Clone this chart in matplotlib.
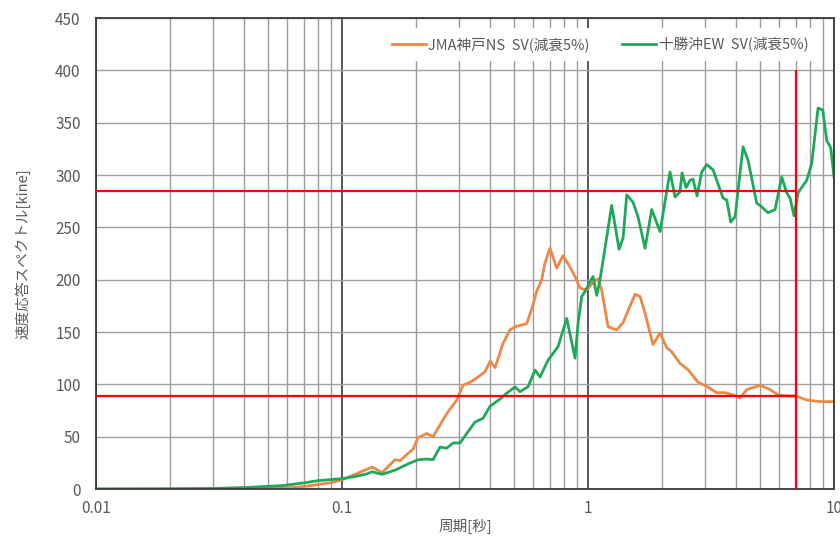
import matplotlib
matplotlib.use("Agg")
import matplotlib.pyplot as plt
from matplotlib.ticker import LogLocator, NullFormatter, FixedLocator

plt.rcParams['font.family'] = ['Noto Sans CJK JP', 'DejaVu Sans']

# JMA神戸NS 速度応答スペクトル (h=5%)
kobe_T = [0.01, 0.02, 0.03, 0.04, 0.05, 0.06, 0.0707, 0.0799, 0.090, 0.1009,
          0.113, 0.1264, 0.1324, 0.1454, 0.1643, 0.1721, 0.1855, 0.1944, 0.2037,
          0.221, 0.2344, 0.2665, 0.2927, 0.3103, 0.3314, 0.3529, 0.3814, 0.3996,
          0.4188, 0.4512, 0.4818, 0.5049, 0.5634, 0.5976, 0.6187, 0.6482, 0.6685,
          0.7005, 0.7461, 0.7914, 0.845, 0.8856, 0.9279, 0.9879, 1.035, 1.098,
          1.137, 1.206, 1.308, 1.388, 1.553, 1.627, 1.705, 1.837, 1.962, 2.089,
          2.189, 2.366, 2.55, 2.8, 3.038, 3.336, 3.606, 3.886, 4.149, 4.417,
          5.003, 5.494, 5.921, 6.423, 7.0, 7.744, 8.773, 10.0]
kobe_sv = [0, 0, 0, 0.2, 0.5, 1, 2.5, 4.3, 6, 9,
           14, 19, 21, 15.6, 28, 27, 34, 38, 49,
           53, 50, 72, 85, 99, 102, 106, 112, 122,
           116, 139, 152, 155, 158, 176, 189, 200, 216,
           230, 211, 223, 212, 203, 192, 190, 196, 201,
           190, 155, 152, 159, 186, 184, 168, 138, 149, 135,
           131, 120, 114, 102, 98, 92, 92, 90, 87, 95,
           99, 95, 90, 89, 89, 85, 83.5, 83.5]

# 十勝沖EW 速度応答スペクトル (h=5%)
tokachi_T = [0.01, 0.02, 0.03, 0.0411, 0.0575, 0.0707, 0.0799, 0.090, 0.1009,
             0.113, 0.1264, 0.1324, 0.1454, 0.1643, 0.1855, 0.2037, 0.221, 0.2344,
             0.2502, 0.2665, 0.2827, 0.3018, 0.3213, 0.3473, 0.3744, 0.3996, 0.4388,
             0.4671, 0.5049, 0.529, 0.5704, 0.6089, 0.638, 0.6876, 0.7551, 0.8193,
             0.8856, 0.9107, 0.9428, 0.98, 1.019, 1.048, 1.085, 1.119, 1.248, 1.337,
             1.388, 1.437, 1.524, 1.597, 1.705, 1.815, 1.962, 2.154, 2.258, 2.366,
             2.411, 2.503, 2.598, 2.672, 2.774, 2.899, 3.038, 3.222, 3.539, 3.664,
             3.804, 3.96, 4.267, 4.471, 4.851, 5.003, 5.392, 5.757, 6.129, 6.423,
             6.625, 6.878, 7.14, 7.744, 8.116, 8.61, 8.998, 9.339, 9.696, 10.0]
tokachi_sv = [0, 0.2, 0.5, 1.5, 3.3, 6, 8, 9, 10,
              12, 14.5, 16.5, 14, 18, 24, 28, 28.6, 28,
              40, 39, 44, 44, 53, 64, 67.6, 79, 86,
              91.5, 97.5, 93, 97.7, 113.7, 107, 123, 136, 163,
              125, 158, 184, 190, 198, 203, 185, 200, 271, 229,
              240, 281, 274, 260, 230, 267, 246, 303, 279, 284,
              302, 288, 295, 296, 280, 303, 310, 305, 278, 276,
              255, 260, 327, 314, 273, 271, 264, 267, 298, 283,
              278, 261, 283, 295, 311, 364, 362, 333, 326, 298]

# 基準線
ref_levels = [285, 89]
ref_period = 7.0

fig = plt.figure(figsize=(8.4, 5.41), dpi=100)
ax = fig.add_axes([0.1143, 0.0961, 0.8786, 0.8706])

ax.set_xscale('log')
ax.set_xlim(0.01, 10)
ax.set_ylim(0, 450)

# grid
ax.xaxis.set_major_locator(FixedLocator([0.01, 0.1, 1, 10]))
ax.xaxis.set_minor_locator(LogLocator(base=10, subs=range(2, 10)))
ax.xaxis.set_minor_formatter(NullFormatter())
ax.set_xticklabels(['0.01', '0.1', '1', '10'])
ax.set_yticks(range(0, 451, 50))
ax.grid(which='minor', axis='x', color='#9c9c9c', lw=1.0)
ax.grid(which='major', axis='x', color='#3a3a3a', lw=1.2)
ax.grid(which='major', axis='y', color='#a0a0a0', lw=1.0)
ax.set_axisbelow(True)
for s in ax.spines.values():
    s.set_color('#3a3a3a')
    s.set_linewidth(1.3)

ax.tick_params(which='both', length=0, labelsize=11, colors='#595959')
ax.tick_params(axis='y', pad=11)
ax.tick_params(axis='x', pad=8)

ax.plot(kobe_T, kobe_sv, color='#ED8848', lw=2.0, label='JMA神戸NS  SV(減衰5%)')
ax.plot(tokachi_T, tokachi_sv, color='#1FA85A', lw=2.0, label='十勝沖EW  SV(減衰5%)')

ax.hlines(ref_levels, 0.01, ref_period, colors='#ff0000', lw=1.6, zorder=5)
ax.vlines(ref_period, 0, 400, colors='#ff0000', lw=1.6, zorder=5)

ax.set_xlabel('周期[秒]', fontsize=10.5, color='#595959', labelpad=1)
ax.set_ylabel('速度応答スペクトル[kine]', fontsize=10.5, color='#595959', labelpad=18)

leg = ax.legend(loc='center', bbox_to_anchor=(0.683, 0.943), ncol=2, frameon=True,
                fontsize=10.5, handlelength=2.3, handletextpad=0.2, columnspacing=2.2,
                borderpad=0.6, fancybox=False)
leg.get_frame().set_facecolor('white')
leg.get_frame().set_edgecolor('none')
leg.get_frame().set_alpha(1)
for t in leg.get_texts():
    t.set_color('#595959')

fig.savefig('out.png', dpi=100)
